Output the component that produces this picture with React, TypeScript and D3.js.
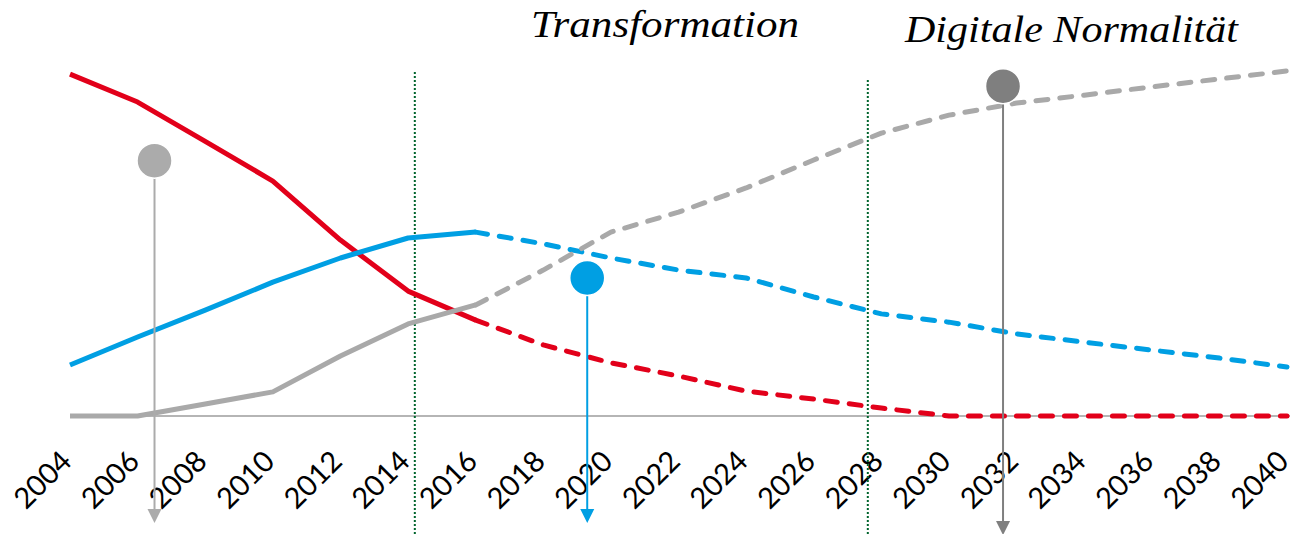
import React, { useEffect, useRef } from 'react';
import * as d3 from 'd3';

const years = [2004, 2006, 2008, 2010, 2012, 2014, 2016, 2018, 2020, 2022, 2024, 2026, 2028, 2030, 2032, 2034, 2036, 2038, 2040];
const redValues = [99.1, 91.0, 79.6, 68.1, 51.0, 36.2, 27.8, 20.6, 15.4, 11.6, 7.2, 4.9, 2.3, 0, 0, 0, 0, 0, 0];
const blueValues = [14.8, 22.9, 30.7, 38.8, 45.8, 51.6, 53.3, 49.9, 45.8, 42.3, 40.0, 34.5, 29.6, 27.2, 23.8, 21.4, 19.1, 16.8, 14.2];
const grayValues = [0, 0, 3.5, 7.0, 17.4, 26.7, 32.2, 42.3, 53.3, 59.1, 66.1, 74.2, 82.0, 87.2, 90.7, 93.0, 95.4, 97.7, 100];
const forecastFrom = 2016;

const phaseYears = [2014.2, 2027.6];
const phaseLabels = [
  { text: 'Transformation', x: 531, y: 37, len: 268 },
  { text: 'Digitale Normalität', x: 905, y: 42, len: 333 },
];

const pinYears = [2006.5, 2019.3, 2031.6];
const pinValues = [74, 40, 95.6];
const pinColors = ['#ababab', '#009fe3', '#7f7f7f'];
const pinEnds = [523, 523, 535];

const series = [
  { name: 'red', values: redValues, color: '#e2001a' },
  { name: 'blue', values: blueValues, color: '#009fe3' },
  { name: 'gray', values: grayValues, color: '#a9a9a9' },
];

const App = () => {
  const svgRef = useRef(null);

  useEffect(() => {
    const width = 1294;
    const height = 534;
    const svg = d3.select(svgRef.current);
    svg.selectAll('*').remove();

    const x = d3.scaleLinear().domain([2004, 2040]).range([70, 1287]);
    const y = d3.scaleLinear().domain([0, 100]).range([416, 71]);

    // x axis
    const axis = svg.append('g')
      .attr('transform', `translate(0,${y(0)})`)
      .call(d3.axisBottom(x).tickValues(years).tickSize(0).tickFormat(d3.format('d')));
    axis.select('.domain').attr('stroke', '#9d9d9d').attr('stroke-width', 1.5).attr('d', `M${x(2004)},0H${x(2040) + 3}`);
    axis.selectAll('text')
      .attr('x', 0).attr('y', 0).attr('dy', 0)
      .attr('transform', 'translate(3,47) rotate(-45)')
      .attr('text-anchor', 'end')
      .attr('fill', '#000')
      .style('font-family', 'Lato, "DejaVu Sans", sans-serif')
      .style('font-size', '29px');

    // phase separators
    svg.selectAll('.phase')
      .data(phaseYears)
      .enter().append('line')
      .attr('x1', d => x(d)).attr('x2', d => x(d))
      .attr('y1', (d, i) => (i === 0 ? 72 : 80)).attr('y2', height)
      .attr('stroke', '#00642d')
      .attr('stroke-width', 2)
      .attr('stroke-dasharray', '2 2');

    const line = d3.line().x(d => x(d[0])).y(d => y(d[1]));

    series.forEach(s => {
      const pts = years.map((yr, i) => [yr, s.values[i]]);
      const solid = pts.filter(p => p[0] <= forecastFrom);
      const dashed = pts.filter(p => p[0] >= forecastFrom);
      svg.append('path')
        .attr('d', line(solid))
        .attr('fill', 'none')
        .attr('stroke', s.color)
        .attr('stroke-width', 5)
        .attr('stroke-linejoin', 'round');
      svg.append('path')
        .attr('d', line(dashed))
        .attr('fill', 'none')
        .attr('stroke', s.color)
        .attr('stroke-width', 5)
        .attr('stroke-linecap', 'round')
        .attr('stroke-linejoin', 'round')
        .attr('stroke-dasharray', '12 12');
    });

    // pins
    pinYears.forEach((yr, i) => {
      const px = x(yr);
      const py = y(pinValues[i]);
      const tip = pinEnds[i];
      svg.append('line')
        .attr('x1', px).attr('x2', px)
        .attr('y1', py).attr('y2', tip - 12)
        .attr('stroke', pinColors[i])
        .attr('stroke-width', 2);
      svg.append('path')
        .attr('d', `M${px - 7},${tip - 14}L${px + 7},${tip - 14}L${px},${tip}Z`)
        .attr('fill', pinColors[i]);
      svg.append('circle')
        .attr('cx', px).attr('cy', py).attr('r', 17.5)
        .attr('fill', pinColors[i])
        .attr('stroke', '#fff')
        .attr('stroke-width', 1.5);
    });

    svg.selectAll('.phase-label')
      .data(phaseLabels)
      .enter().append('text')
      .attr('x', d => d.x).attr('y', d => d.y)
      .attr('textLength', d => d.len)
      .attr('lengthAdjust', 'spacingAndGlyphs')
      .style('font-family', '"Liberation Serif", Georgia, serif')
      .style('font-style', 'italic')
      .style('font-size', '38px')
      .attr('fill', '#000')
      .text(d => d.text);

    svg.attr('width', width).attr('height', height);
  }, []);

  return (
    <svg
      ref={svgRef}
      style={{ position: 'absolute', left: 0, top: 0, background: '#fff' }}
    ></svg>
  );
};

export default App;
